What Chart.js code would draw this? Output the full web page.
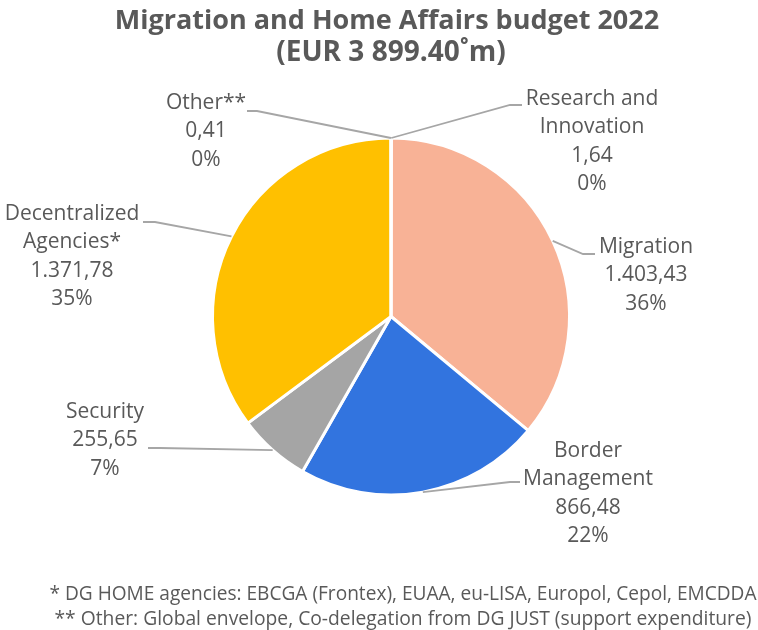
<!DOCTYPE html>
<html>
<head>
<meta charset="utf-8">
<script src="https://cdn.jsdelivr.net/npm/chart.js@4"></script>
<style>
  html, body { margin: 0; padding: 0; background: #fff; }
  #wrap { width: 758px; height: 630px; position: relative; }
</style>
</head>
<body>
<div id="wrap"><canvas id="budgetChart" width="758" height="630"></canvas></div>
<script>
// data
const categories = ["Research and Innovation", "Migration", "Border Management", "Security", "Decentralized Agencies*", "Other**"];
const nameLines = [["Research and", "Innovation"], ["Migration"], ["Border", "Management"], ["Security"], ["Decentralized", "Agencies*"], ["Other**"]];
const values = [1.64, 1403.43, 866.48, 255.65, 1371.78, 0.41];
const sliceColors = ["#5B9BD5", "#F8B296", "#3274DF", "#A5A5A5", "#FFC000", "#264478"];
const titleLines = ["Migration and Home Affairs budget 2022", "(EUR 3 899.40\u02DAm)"];
const footnotes = [
  "* DG HOME agencies: EBCGA (Frontex), EUAA, eu-LISA, Europol, Cepol, EMCDDA",
  "** Other: Global envelope, Co-delegation from DG JUST (support expenditure)"
];

// label layout: text centre x, first line y, elbow point, line end
const labelPos = [
  { x: 592, y: 99,  elbow: [510, 105], end: [522, 105] },
  { x: 646, y: 247, elbow: [583, 254], end: [595, 254] },
  { x: 588, y: 451, elbow: [510, 482], end: [520, 482] },
  { x: 105, y: 412, elbow: [160, 448], end: [148, 448] },
  { x: 72,  y: 214, elbow: [155, 222], end: [143, 222] },
  { x: 206, y: 103, elbow: [257, 111], end: [247, 111] }
];

const textColor = "#595959";
const fontFam = "'Open Sans', 'Liberation Sans', sans-serif";
const total = values.reduce((a, b) => a + b, 0);

function fmt(v) {
  return v.toLocaleString("de-DE", { minimumFractionDigits: 2, maximumFractionDigits: 2 });
}

const labelPlugin = {
  id: "pieLabels",
  afterDraw(chart) {
    const ctx = chart.ctx;
    const arcs = chart.getDatasetMeta(0).data;
    ctx.save();

    // title
    ctx.fillStyle = textColor;
    ctx.textAlign = "center";
    ctx.textBaseline = "middle";
    ctx.font = "bold 27px " + fontFam;
    ctx.fillText(titleLines[0], 387, 21, 545);
    ctx.font = "bold 28px " + fontFam;
    ctx.fillText(titleLines[1], 391, 53, 240);

    // leader lines + labels
    arcs.forEach((arc, i) => {
      const p = arc.getProps(["x", "y", "startAngle", "endAngle", "outerRadius"], true);
      const mid = (p.startAngle + p.endAngle) / 2;
      const sx = p.x + Math.cos(mid) * p.outerRadius;
      const sy = p.y + Math.sin(mid) * p.outerRadius;
      const lp = labelPos[i];

      ctx.strokeStyle = "#A6A6A6";
      ctx.lineWidth = 1.8;
      ctx.beginPath();
      ctx.moveTo(sx, sy);
      ctx.lineTo(lp.elbow[0], lp.elbow[1]);
      ctx.lineTo(lp.end[0], lp.end[1]);
      ctx.stroke();

      const lines = nameLines[i].concat([fmt(values[i]), Math.round(values[i] / total * 100) + "%"]);
      ctx.fillStyle = textColor;
      ctx.font = "21px " + fontFam;
      lines.forEach((t, k) => ctx.fillText(t, lp.x, lp.y + k * 28.3));
    });

    // footnotes
    ctx.font = "20px " + fontFam;
    ctx.fillText(footnotes[0], 403, 594, 707);
    ctx.fillText(footnotes[1], 403, 619, 697);
    ctx.restore();
  }
};

new Chart(document.getElementById("budgetChart"), {
  type: "pie",
  data: {
    labels: categories,
    datasets: [{
      data: values,
      backgroundColor: sliceColors,
      borderColor: "#ffffff",
      borderWidth: 3
    }]
  },
  options: {
    responsive: false,
    animation: false,
    layout: { padding: { top: 136.5, bottom: 133.5, left: 211, right: 187 } },
    plugins: {
      legend: { display: false },
      title: { display: false },
      tooltip: { enabled: false }
    }
  },
  plugins: [labelPlugin]
});
</script>
</body>
</html>
